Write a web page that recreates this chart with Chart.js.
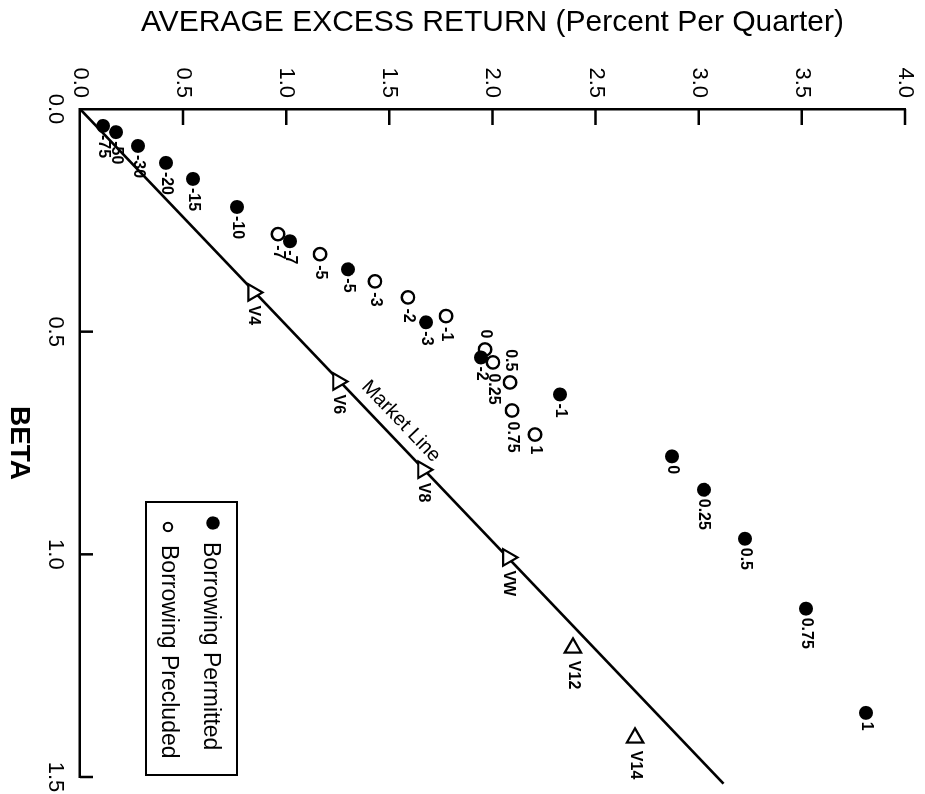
<!DOCTYPE html>
<html>
<head>
<meta charset="utf-8">
<title>Average Excess Return vs Beta</title>
<script src="https://cdn.jsdelivr.net/npm/chart.js@4.4.1/dist/chart.umd.min.js"></script>
<style>
  html, body { margin: 0; padding: 0; background: #fff; overflow: hidden; }
  /* The plot is laid out with beta across and return upward, then turned a quarter clockwise */
  #wrap {
    position: absolute; left: 0; top: 0;
    width: 794px; height: 925px;
    transform-origin: 0 0;
    transform: translate(925px, 0) rotate(90deg);
  }
</style>
</head>
<body>
<div id="wrap"><canvas id="c" width="794" height="925"></canvas></div>
<script>
const FONT = "'Liberation Sans', Arial, Helvetica, sans-serif";

// Axis ticks
const betaTickValues = [0, 0.5, 1.0, 1.5];
const betaTickLabels = ['0.0', '0.5', '1.0', '1.5'];
const returnTickValues = [0, 0.5, 1.0, 1.5, 2.0, 2.5, 3.0, 3.5, 4.0];
const returnTickLabels = ['0.0', '0.5', '1.0', '1.5', '2.0', '2.5', '3.0', '3.5', '4.0'];

// Leveraged portfolios, borrowing permitted
const permittedLabels = ['-75', '-50', '-30', '-20', '-15', '-10', '-7', '-5', '-3', '-2', '-1', '0', '0.25', '0.5', '0.75', '1'];
const permittedBeta   = [0.038, 0.052, 0.083, 0.121, 0.157, 0.220, 0.297, 0.360, 0.479, 0.558, 0.641, 0.780, 0.855, 0.965, 1.122, 1.356];
const permittedReturn = [0.112, 0.175, 0.281, 0.417, 0.548, 0.761, 1.018, 1.299, 1.678, 1.944, 2.327, 2.870, 3.025, 3.224, 3.520, 3.811];

// Leveraged portfolios, borrowing precluded
const precludedLabels = ['-7', '-5', '-3', '-2', '-1', '0', '0.25', '0.5', '0.75', '1'];
const precludedBeta   = [0.281, 0.326, 0.387, 0.423, 0.465, 0.540, 0.569, 0.614, 0.677, 0.731];
const precludedReturn = [0.960, 1.164, 1.430, 1.590, 1.775, 1.964, 2.002, 2.085, 2.095, 2.206];

// Market portfolios
const portfolioLabels = ['V4', 'V6', 'V8', 'VW', 'V12', 'V14'];
const portfolioBeta   = [0.412, 0.612, 0.810, 1.007, 1.210, 1.412];
const portfolioReturn = [0.839, 1.251, 1.663, 2.075, 2.390, 2.691];

// Market line end points
const marketLineBeta   = [0, 1.515];
const marketLineReturn = [0, 3.12];

const toPoints = (xs, ys) => xs.map((x, i) => ({ x: x, y: ys[i] }));

// The two off-line portfolios carry a sideways triangle
const portfolioMarkerRotation = [0, 0, 0, 0, -90, -90];

// Inward tick marks on both axes
const inwardTicks = {
  id: 'inwardTicks',
  afterDatasetsDraw(chart) {
    const { ctx, chartArea, scales } = chart;
    ctx.save();
    ctx.strokeStyle = '#000';
    ctx.lineWidth = 2.5;
    ctx.beginPath();
    returnTickValues.forEach(v => {
      if (v === 0) return;
      const y = scales.y.getPixelForValue(v);
      ctx.moveTo(chartArea.left, y);
      ctx.lineTo(chartArea.left + 16, y);
    });
    betaTickValues.forEach(v => {
      if (v === 0) return;
      const x = scales.x.getPixelForValue(v);
      ctx.moveTo(x, chartArea.bottom);
      ctx.lineTo(x, chartArea.bottom - 13);
    });
    ctx.stroke();
    ctx.restore();
  }
};

// Small text next to each marker
const pointLabels = {
  id: 'pointLabels',
  afterDatasetsDraw(chart) {
    const ctx = chart.ctx;
    ctx.save();
    ctx.fillStyle = '#000';
    ctx.font = 'bold 16px ' + FONT;
    ctx.textBaseline = 'middle';
    chart.data.datasets.forEach((ds, di) => {
      if (!ds.pointLabels) return;
      const meta = chart.getDatasetMeta(di);
      meta.data.forEach((pt, i) => {
        const text = ds.pointLabels[i];
        const before = (ds.labelsBefore || []).includes(text);
        ctx.textAlign = before ? 'right' : 'left';
        ctx.fillText(text, pt.x + (before ? -ds.labelGap : ds.labelGap), pt.y);
      });
    });
    ctx.restore();
  }
};

// "Market Line" written along the line
const lineCaption = {
  id: 'lineCaption',
  afterDatasetsDraw(chart) {
    const meta = chart.getDatasetMeta(3);
    const p0 = meta.data[0], p1 = meta.data[1];
    const dx = p1.x - p0.x, dy = p1.y - p0.y;
    const ang = Math.atan2(dy, dx);
    const t = 0.48;
    const ctx = chart.ctx;
    ctx.save();
    ctx.translate(p0.x + dx * t, p0.y + dy * t);
    ctx.rotate(ang);
    ctx.fillStyle = '#000';
    ctx.font = '20px ' + FONT;
    ctx.textAlign = 'center';
    ctx.textBaseline = 'alphabetic';
    ctx.fillText('Market Line', 0, -11);
    ctx.restore();
  }
};

// Boxed key in the lower right of the plot
const boxedKey = {
  id: 'boxedKey',
  afterDraw(chart) {
    const { ctx, chartArea } = chart;
    const right = chartArea.right - 2, bottom = chartArea.bottom - 66;
    const left = right - 273, top = bottom - 91;
    ctx.save();
    ctx.strokeStyle = '#000';
    ctx.lineWidth = 2;
    ctx.strokeRect(left, top, right - left, bottom - top);
    ctx.font = '23px ' + FONT;
    ctx.fillStyle = '#000';
    ctx.textAlign = 'left';
    ctx.textBaseline = 'middle';
    const dsA = chart.data.datasets[0], dsB = chart.data.datasets[1];
    // filled marker
    ctx.beginPath();
    ctx.arc(left + 21, top + 24, 6.7, 0, Math.PI * 2);
    ctx.fill();
    ctx.fillText(dsA.label, left + 40, top + 27);
    // open marker
    ctx.beginPath();
    ctx.arc(left + 25, top + 69, 4.2, 0, Math.PI * 2);
    ctx.lineWidth = 2;
    ctx.stroke();
    ctx.fillText(dsB.label, left + 43, top + 69);
    ctx.restore();
  }
};

new Chart(document.getElementById('c'), {
  type: 'scatter',
  data: {
    datasets: [
      {
        label: 'Borrowing Permitted',
        data: toPoints(permittedBeta, permittedReturn),
        pointLabels: permittedLabels,
        labelGap: 9,
        pointStyle: 'circle',
        pointRadius: 7,
        pointBackgroundColor: '#000',
        pointBorderColor: '#000',
        pointBorderWidth: 0,
        order: 0
      },
      {
        label: 'Borrowing Precluded',
        data: toPoints(precludedBeta, precludedReturn),
        pointLabels: precludedLabels,
        labelGap: 11,
        labelsBefore: ['0', '0.5'],
        pointStyle: 'circle',
        pointRadius: 6.2,
        pointBackgroundColor: '#fff',
        pointBorderColor: '#000',
        pointBorderWidth: 2.4,
        order: 1
      },
      {
        label: 'Portfolios',
        data: toPoints(portfolioBeta, portfolioReturn),
        pointLabels: portfolioLabels,
        labelGap: 13,
        pointStyle: 'triangle',
        pointRadius: 9.5,
        pointRotation: portfolioMarkerRotation,
        pointBackgroundColor: '#fff',
        pointBorderColor: '#000',
        pointBorderWidth: 2.2,
        order: 2
      },
      {
        label: 'Market Line',
        data: toPoints(marketLineBeta, marketLineReturn),
        showLine: true,
        borderColor: '#000',
        borderWidth: 2.5,
        pointRadius: 0,
        clip: false,
        order: 3
      }
    ]
  },
  options: {
    responsive: false,
    animation: false,
    devicePixelRatio: 1,
    events: [],
    layout: { padding: { top: 20, right: 17, bottom: 0, left: 0 } },
    plugins: { legend: { display: false }, tooltip: { enabled: false } },
    scales: {
      x: {
        type: 'linear',
        position: 'bottom',
        min: 0, max: 1.5,
        afterBuildTicks: s => { s.ticks = betaTickValues.map(v => ({ value: v })); },
        afterFit: s => { s.height = 80; s.paddingLeft = 0; s.paddingRight = 0; },
        ticks: {
          callback: (v, i) => betaTickLabels[i],
          font: { family: FONT, size: 22 },
          color: '#000',
          padding: 12,
          maxRotation: 0, minRotation: 0, autoSkip: false
        },
        grid: { display: false, drawTicks: false },
        border: { display: true, color: '#000', width: 2.5 },
        title: {
          display: true, text: 'BETA', color: '#000',
          font: { family: FONT, size: 28, weight: 'bold' },
          padding: { top: 0, bottom: 2 }
        }
      },
      y: {
        type: 'linear',
        position: 'left',
        min: 0, max: 4,
        afterBuildTicks: s => { s.ticks = returnTickValues.map(v => ({ value: v })); },
        afterFit: s => { s.width = 109; s.paddingTop = 0; s.paddingBottom = 0; },
        ticks: {
          callback: (v, i) => returnTickLabels[i],
          font: { family: FONT, size: 22 },
          color: '#000',
          padding: 11,
          autoSkip: false
        },
        grid: { display: false, drawTicks: false },
        border: { display: true, color: '#000', width: 2.5 },
        title: {
          display: true, text: 'AVERAGE EXCESS RETURN (Percent Per Quarter)', color: '#000',
          font: { family: FONT, size: 30 },
          padding: { top: 5, bottom: 0 }
        }
      }
    }
  },
  plugins: [inwardTicks, pointLabels, lineCaption, boxedKey]
});
</script>
</body>
</html>
